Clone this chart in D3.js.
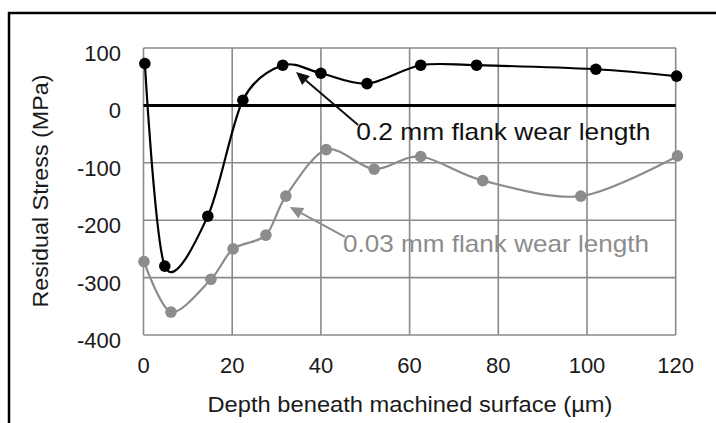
<!DOCTYPE html>
<html>
<head>
<meta charset="utf-8">
<script src="https://cdn.jsdelivr.net/npm/d3@7"></script>
<style>
  body { margin: 0; background: #fff; }
  text { font-family: "Liberation Sans", Arial, sans-serif; }
</style>
</head>
<body>
<svg id="chart" width="716" height="423"></svg>
<script>
// depth (um) and residual stress (MPa)
var depth_02 = [0.3, 4.8, 14.5, 22.4, 31.4, 40, 50.4, 62.5, 75.1, 102, 120.2]
var stress_02 = [73, -280, -193, 9, 70, 56, 38, 70, 70, 63, 51]
var depth_003 = [0.1, 6.2, 15.2, 20.2, 27.6, 32.1, 41.2, 52, 62.5, 76.5, 98.6, 120.4]
var stress_003 = [-272, -360, -303, -250, -226, -158, -77, -111, -89, -131, -158, -88]
var xTicks = [0, 20, 40, 60, 80, 100, 120]
var yTicks = [100, 0, -100, -200, -300, -400]

var width = 716, height = 423
var margin = {left: 143.5, right: 40.3, top: 48, bottom: 88}

const svg = d3.select("#chart")

// outer frame (runs off the right and bottom edge)
svg.append("rect")
    .attr("x", 9).attr("y", 13)
    .attr("width", 800).attr("height", 500)
    .attr("fill", "none")
    .attr("stroke", "#000")
    .attr("stroke-width", 2.5)

const x = d3.scaleLinear().domain([0, 120]).range([margin.left, width - margin.right])
const y = d3.scaleLinear().domain([-400, 100]).range([height - margin.bottom, margin.top])

// grid
svg.append("g")
    .selectAll("line")
    .data(xTicks)
    .enter()
    .append("line")
    .attr("x1", d => x(d)).attr("x2", d => x(d))
    .attr("y1", y(100)).attr("y2", y(-400))
    .attr("stroke", "#8a8a8a")
    .attr("stroke-width", 1.6)

svg.append("g")
    .selectAll("line")
    .data(yTicks)
    .enter()
    .append("line")
    .attr("x1", x(0)).attr("x2", x(120))
    .attr("y1", d => y(d)).attr("y2", d => y(d))
    .attr("stroke", "#8a8a8a")
    .attr("stroke-width", 1.6)

// zero line
svg.append("line")
    .attr("x1", x(0)).attr("x2", x(120))
    .attr("y1", y(0)).attr("y2", y(0))
    .attr("stroke", "#000")
    .attr("stroke-width", 3)

// tick labels
svg.append("g")
    .selectAll("text")
    .data(yTicks)
    .enter()
    .append("text")
    .attr("x", 121)
    .attr("y", d => y(d) + 13)
    .attr("text-anchor", "end")
    .attr("font-size", "22px")
    .attr("fill", "#1a1a1a")
    .text(d => d)

svg.append("g")
    .selectAll("text")
    .data(xTicks)
    .enter()
    .append("text")
    .attr("x", d => x(d))
    .attr("y", 373)
    .attr("text-anchor", "middle")
    .attr("font-size", "22px")
    .attr("fill", "#1a1a1a")
    .text(d => d)

// axis titles
svg.append("text")
    .attr("x", 410).attr("y", 412)
    .attr("text-anchor", "middle")
    .attr("font-size", "22px")
    .attr("fill", "#1a1a1a")
    .attr("textLength", 405)
    .attr("lengthAdjust", "spacingAndGlyphs")
    .text("Depth beneath machined surface (\u00b5m)")

svg.append("text")
    .attr("transform", "translate(48,191) rotate(-90)")
    .attr("text-anchor", "middle")
    .attr("font-size", "22px")
    .attr("fill", "#1a1a1a")
    .attr("textLength", 233)
    .attr("lengthAdjust", "spacingAndGlyphs")
    .text("Residual Stress (MPa)")

// series
const line = d3.line().curve(d3.curveCardinal.tension(0.1))
const series = [
    {xs: depth_003, ys: stress_003, color: "#8c8c8c"},
    {xs: depth_02, ys: stress_02, color: "#000"}
]
series.forEach(s => {
    const pts = s.xs.map((d, i) => [x(d), y(s.ys[i])])
    svg.append("path")
        .attr("d", line(pts))
        .attr("fill", "none")
        .attr("stroke", s.color)
        .attr("stroke-width", 2.2)
    svg.append("g")
        .selectAll("circle")
        .data(pts)
        .enter()
        .append("circle")
        .attr("cx", d => d[0]).attr("cy", d => d[1])
        .attr("r", 5.8)
        .attr("fill", s.color)
})

// annotations: arrow tip, arrow tail, label position (data units)
const notes = [
    {tip: [34.4, 58], tail: [48.4, -34], at: [48, -60], text: "0.2 mm flank wear length", color: "#111"},
    {tip: [33, -177], tail: [45.4, -229], at: [45, -255], text: "0.03 mm flank wear length", color: "#8c8c8c"}
]
notes.forEach(n => {
    const x1 = x(n.tail[0]), y1 = y(n.tail[1]), x2 = x(n.tip[0]), y2 = y(n.tip[1])
    const a = Math.atan2(y2 - y1, x2 - x1)
    const L = 13, W = 6
    const bx = x2 - L * Math.cos(a), by = y2 - L * Math.sin(a)
    svg.append("line")
        .attr("x1", x1).attr("y1", y1).attr("x2", bx).attr("y2", by)
        .attr("stroke", n.color).attr("stroke-width", 2)
    svg.append("polygon")
        .attr("points", [[x2, y2],
            [bx + W * Math.sin(a), by - W * Math.cos(a)],
            [bx - W * Math.sin(a), by + W * Math.cos(a)]].join(" "))
        .attr("fill", n.color)
    svg.append("text")
        .attr("x", x(n.at[0])).attr("y", y(n.at[1]))
        .attr("font-size", "24px")
        .attr("fill", n.color)
        .attr("textLength", n.text.length > 24 ? 306 : 294)
        .attr("lengthAdjust", "spacingAndGlyphs")
        .text(n.text)
})
</script>
</body>
</html>
